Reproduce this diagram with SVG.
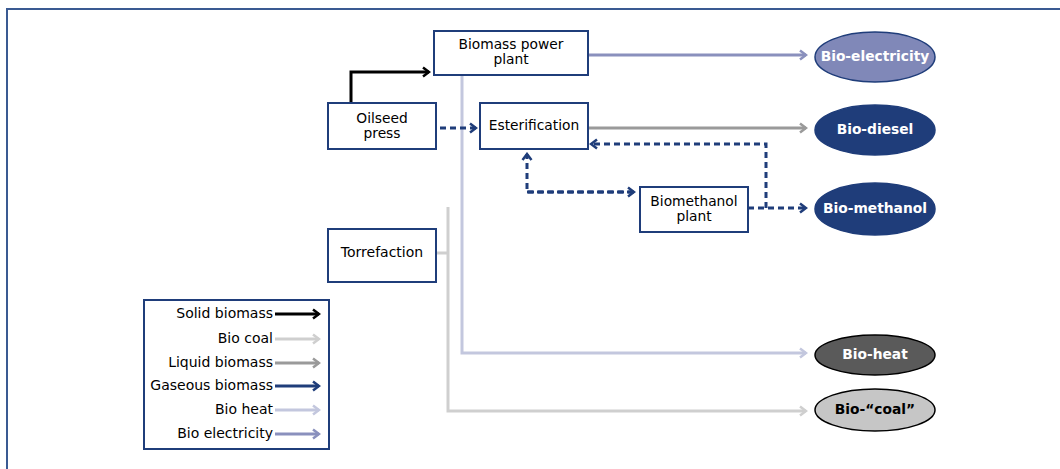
<svg xmlns="http://www.w3.org/2000/svg" width="1060" height="469" viewBox="0 0 1060 469">
  <style>
    .box { fill: #ffffff; stroke: #1f3d7a; stroke-width: 2; }
    .lbl { font-family: "DejaVu Sans", "Liberation Sans", sans-serif; font-size: 13.8px; fill: #000000; text-anchor: middle; }
    .leg { font-family: "DejaVu Sans", "Liberation Sans", sans-serif; font-size: 14px; fill: #000000; text-anchor: end; }
    .out { font-family: "DejaVu Sans", "Liberation Sans", sans-serif; font-size: 13.8px; font-weight: bold; fill: #ffffff; text-anchor: middle; }
    .ln { fill: none; stroke-width: 3; }
    .solid { stroke: #000000; }
    .coal { stroke: #cfcfcf; }
    .liquid { stroke: #9a9a9a; }
    .gas { stroke: #1f3d7a; stroke-dasharray: 6 4; }
    .gasl { stroke: #1f3d7a; }
    .heat { stroke: #c3c7de; }
    .elec { stroke: #8a90bd; }
  </style>
  <defs>
    <marker id="a-solid" viewBox="0 0 10 12" refX="8" refY="6" markerWidth="10" markerHeight="12" markerUnits="userSpaceOnUse" orient="auto">
      <path d="M2,1.5 L8,6 L2,10.5" fill="none" stroke="#000000" stroke-width="2.5"/>
    </marker>
    <marker id="a-coal" viewBox="0 0 10 12" refX="8" refY="6" markerWidth="10" markerHeight="12" markerUnits="userSpaceOnUse" orient="auto">
      <path d="M2,1.5 L8,6 L2,10.5" fill="none" stroke="#cfcfcf" stroke-width="2.5"/>
    </marker>
    <marker id="a-liquid" viewBox="0 0 10 12" refX="8" refY="6" markerWidth="10" markerHeight="12" markerUnits="userSpaceOnUse" orient="auto">
      <path d="M2,1.5 L8,6 L2,10.5" fill="none" stroke="#9a9a9a" stroke-width="2.5"/>
    </marker>
    <marker id="a-gas" viewBox="0 0 10 12" refX="8" refY="6" markerWidth="10" markerHeight="12" markerUnits="userSpaceOnUse" orient="auto">
      <path d="M2,1.5 L8,6 L2,10.5" fill="none" stroke="#1f3d7a" stroke-width="2.5"/>
    </marker>
    <marker id="a-heat" viewBox="0 0 10 12" refX="8" refY="6" markerWidth="10" markerHeight="12" markerUnits="userSpaceOnUse" orient="auto">
      <path d="M2,1.5 L8,6 L2,10.5" fill="none" stroke="#c3c7de" stroke-width="2.5"/>
    </marker>
    <marker id="a-elec" viewBox="0 0 10 12" refX="8" refY="6" markerWidth="10" markerHeight="12" markerUnits="userSpaceOnUse" orient="auto">
      <path d="M2,1.5 L8,6 L2,10.5" fill="none" stroke="#8a90bd" stroke-width="2.5"/>
    </marker>
  </defs>

  <rect width="1060" height="469" fill="#ffffff"/>
  <!-- page frame -->
  <path d="M7,469 V9 H1060" fill="none" stroke="#3a5a92" stroke-width="2"/>

  <g id="connectors">
    <!-- bio coal from torrefaction -->
    <path class="ln coal" d="M436,253 H448 M448,207 V411 H806" marker-end="url(#a-coal)"/>
    <!-- bio heat from power plant -->
    <path class="ln heat" d="M462,75 V353 H806" marker-end="url(#a-heat)"/>
    <!-- bio electricity -->
    <path class="ln elec" d="M588,55 H806" marker-end="url(#a-elec)"/>
    <!-- liquid biomass to bio-diesel -->
    <path class="ln liquid" d="M588,128 H806" marker-end="url(#a-liquid)"/>
    <!-- solid biomass to power plant -->
    <path class="ln solid" d="M351,103 V72 H429" marker-end="url(#a-solid)"/>
    <!-- gaseous flows -->
    <path class="ln gas" d="M440,128 H476" marker-end="url(#a-gas)"/>
    <path class="ln gas" d="M634,192 H527 V154" marker-end="url(#a-gas)"/>
    <path class="ln gas" d="M527,192 H634" marker-end="url(#a-gas)"/>
    <path class="ln gas" d="M748,208 H806" marker-end="url(#a-gas)"/>
    <path class="ln gas" d="M766,208 V144 H591" marker-end="url(#a-gas)"/>
  </g>

  <g id="node-power-plant">
    <rect class="box" x="434" y="31" width="154" height="44"/>
    <text class="lbl" x="511" y="49">Biomass power</text>
    <text class="lbl" x="511" y="64">plant</text>
  </g>
  <g id="node-oilseed-press">
    <rect class="box" x="328" y="103" width="108" height="46"/>
    <text class="lbl" x="382" y="123">Oilseed</text>
    <text class="lbl" x="382" y="138">press</text>
  </g>
  <g id="node-esterification">
    <rect class="box" x="480" y="103" width="108" height="46"/>
    <text class="lbl" x="534" y="130">Esterification</text>
  </g>
  <g id="node-biomethanol-plant">
    <rect class="box" x="640" y="187" width="108" height="45"/>
    <text class="lbl" x="694" y="206">Biomethanol</text>
    <text class="lbl" x="694" y="221">plant</text>
  </g>
  <g id="node-torrefaction">
    <rect class="box" x="328" y="229" width="108" height="53"/>
    <text class="lbl" x="382" y="257" style="font-size:14px">Torrefaction</text>
  </g>

  <g id="node-bio-electricity">
    <ellipse cx="875" cy="57" rx="60" ry="25" fill="#8088b8" stroke="#1f3d7a" stroke-width="1.5"/>
    <text class="out" x="875" y="61">Bio-electricity</text>
  </g>
  <g id="node-bio-diesel">
    <ellipse cx="875" cy="130" rx="60" ry="25" fill="#1f3d7a" stroke="#1f3d7a" stroke-width="1.5"/>
    <text class="out" x="875" y="134">Bio-diesel</text>
  </g>
  <g id="node-bio-methanol">
    <ellipse cx="875" cy="209" rx="60" ry="26" fill="#1f3d7a" stroke="#1f3d7a" stroke-width="1.5"/>
    <text class="out" x="875" y="213">Bio-methanol</text>
  </g>
  <g id="node-bio-heat">
    <ellipse cx="875" cy="355" rx="60" ry="20" fill="#5a5a5a" stroke="#000000" stroke-width="1.5"/>
    <text class="out" x="875" y="359">Bio-heat</text>
  </g>
  <g id="node-bio-coal">
    <ellipse cx="875" cy="410" rx="60" ry="21" fill="#c6c6c6" stroke="#000000" stroke-width="1.5"/>
    <text class="out" x="875" y="414" style="fill:#000000">Bio-“coal”</text>
  </g>

  <g id="legend">
    <rect x="144" y="300" width="185" height="149" fill="#ffffff" stroke="#1f3d7a" stroke-width="2"/>
    <text class="leg" x="273" y="318">Solid biomass</text>
    <path class="ln solid" d="M275,314 H319" marker-end="url(#a-solid)"/>
    <text class="leg" x="273" y="343">Bio coal</text>
    <path class="ln coal" d="M275,339 H319" marker-end="url(#a-coal)"/>
    <text class="leg" x="273" y="367">Liquid biomass</text>
    <path class="ln liquid" d="M275,363 H319" marker-end="url(#a-liquid)"/>
    <text class="leg" x="273" y="390">Gaseous biomass</text>
    <path class="ln gasl" d="M275,386 H319" marker-end="url(#a-gas)"/>
    <text class="leg" x="273" y="414">Bio heat</text>
    <path class="ln heat" d="M275,410 H319" marker-end="url(#a-heat)"/>
    <text class="leg" x="273" y="438">Bio electricity</text>
    <path class="ln elec" d="M275,434 H319" marker-end="url(#a-elec)"/>
  </g>
</svg>
